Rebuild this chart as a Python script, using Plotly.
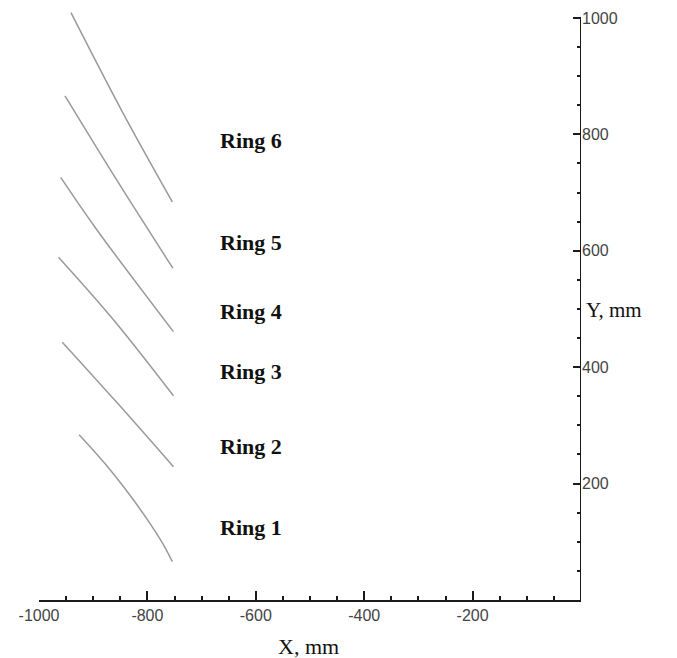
import plotly.graph_objects as go

# Ring traces (X, mm / Y, mm)
ring1_x = [-926, -878, -829, -792, -771, -754]
ring1_y = [284, 234, 176, 127, 96, 66]
ring2_x = [-957, -857, -752]
ring2_y = [443, 340, 229]
ring3_x = [-964, -863, -752]
ring3_y = [589, 482, 351]
ring4_x = [-960, -894, -752]
ring4_y = [726, 637, 461]
ring5_x = [-952, -857, -753]
ring5_y = [866, 722, 570]
ring6_x = [-941, -847, -754]
ring6_y = [1009, 840, 684]

ring_names = ["Ring 1", "Ring 2", "Ring 3", "Ring 4", "Ring 5", "Ring 6"]
label_x = [-609, -609, -609, -609, -609, -609]
label_y = [125, 263, 392, 495, 615, 789]

x_ticks = [-1000, -800, -600, -400, -200]
y_ticks = [200, 400, 600, 800, 1000]

rings = [(ring1_x, ring1_y), (ring2_x, ring2_y), (ring3_x, ring3_y),
         (ring4_x, ring4_y), (ring5_x, ring5_y), (ring6_x, ring6_y)]

fig = go.Figure()
for (xs, ys), name in zip(rings, ring_names):
    fig.add_trace(go.Scatter(x=xs, y=ys, mode="lines", name=name,
                             line=dict(color="#9a9a9a", width=1.5, shape="spline", smoothing=1.0),
                             showlegend=False))

for name, lx, ly in zip(ring_names, label_x, label_y):
    fig.add_annotation(x=lx, y=ly, text="<b>%s</b>" % name, showarrow=False,
                       font=dict(family="Liberation Serif", size=22, color="#111111"))

# axis titles
fig.add_annotation(x=1.116, xref="paper", y=498, yref="y", text="Y, mm", showarrow=False,
                   font=dict(family="Liberation Serif", size=21, color="#111111"))
fig.add_annotation(x=-502, xref="x", y=0, yref="y", yshift=-46, text="X, mm", showarrow=False,
                   font=dict(family="Liberation Serif", size=22, color="#111111"))

# y axis line (stops at 1000)
fig.add_shape(type="line", xref="x", yref="y", x0=0, x1=0, y0=0, y1=y_ticks[-1],
              line=dict(color="#1a1a1a", width=2))

fig.update_layout(
    width=669, height=650,
    margin=dict(l=31, r=96, t=0, b=58),
    paper_bgcolor="white", plot_bgcolor="white",
    xaxis=dict(range=[-1000, 0], tickmode="array", tickvals=x_ticks,
               ticktext=[str(v) for v in x_ticks],
               showgrid=False, zeroline=False, showline=True, linecolor="#1a1a1a", linewidth=2,
               ticks="inside", ticklen=9, tickwidth=2, tickcolor="#1a1a1a",
               minor=dict(ticks="inside", tickmode="linear", tick0=-1000, dtick=50,
                          ticklen=4, tickwidth=2, tickcolor="#1a1a1a", showgrid=False),
               tickfont=dict(family="Liberation Sans", size=16, color="#444444")),
    yaxis=dict(range=[0, 1017], side="right", tickmode="array", tickvals=y_ticks,
               ticktext=[str(v) for v in y_ticks],
               showgrid=False, zeroline=False, showline=False,
               ticks="inside", ticklen=8, tickwidth=2, tickcolor="#1a1a1a",
               minor=dict(ticks="inside", tickmode="array",
                          tickvals=[50, 100, 150, 250, 300, 350, 450, 500, 550,
                                    650, 700, 750, 850, 900, 950],
                          ticklen=4, tickwidth=2, tickcolor="#1a1a1a", showgrid=False),
               tickfont=dict(family="Liberation Sans", size=16, color="#444444")),
)

fig.write_html("out.html")
